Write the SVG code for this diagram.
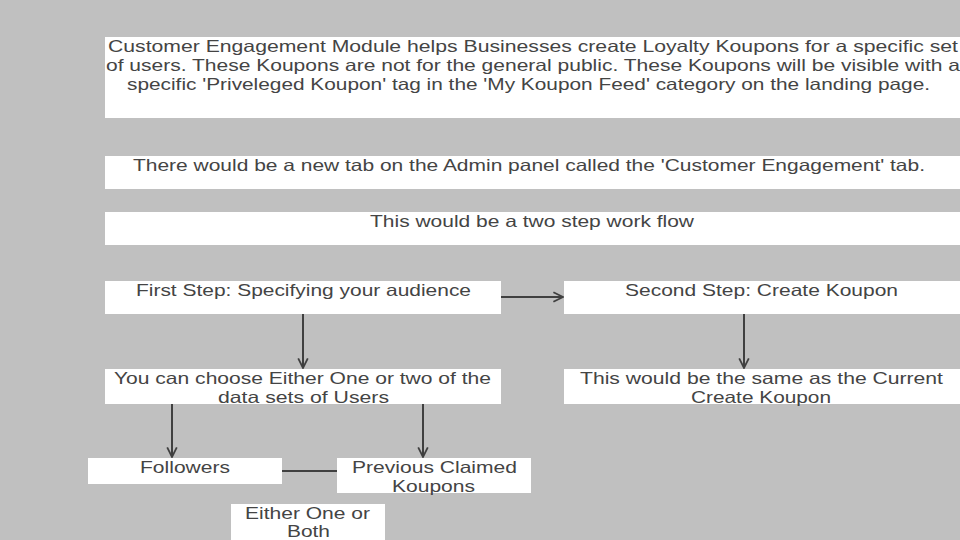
<svg xmlns="http://www.w3.org/2000/svg" width="960" height="540" viewBox="0 0 960 540">
<defs>
<style>
.box{fill:#ffffff;}
.t{font-family:"Liberation Sans",Arial,sans-serif;font-size:16.5px;fill:#444444;text-anchor:middle;}
.c{stroke:#404040;stroke-width:2;fill:none;}
</style>
<marker id="ah" viewBox="0 0 10 10" refX="9" refY="5" markerWidth="6" markerHeight="6" orient="auto" markerUnits="strokeWidth">
<path d="M1,1 L9,5 L1,9" fill="none" stroke="#404040" stroke-width="1.5"/>
</marker>
</defs>
<rect x="0" y="0" width="960" height="540" fill="#c0c0c0"/>
<g id="intro">
<rect class="box" x="105" y="37" width="860" height="81"/>
<text class="t" x="533" y="52" textLength="850" lengthAdjust="spacingAndGlyphs">Customer Engagement Module helps Businesses create Loyalty Koupons for a specific set</text>
<text class="t" x="533" y="71" textLength="854" lengthAdjust="spacingAndGlyphs">of users. These Koupons are not for the general public. These Koupons will be visible with a</text>
<text class="t" x="528.5" y="90" textLength="803" lengthAdjust="spacingAndGlyphs">specific 'Priveleged Koupon' tag in the 'My Koupon Feed' category on the landing page.</text>
</g>
<g id="newtab">
<rect class="box" x="105" y="156" width="860" height="33"/>
<text class="t" x="529" y="171" textLength="792" lengthAdjust="spacingAndGlyphs">There would be a new tab on the Admin panel called the 'Customer Engagement' tab.</text>
</g>
<g id="twostep">
<rect class="box" x="105" y="212" width="860" height="33"/>
<text class="t" x="532" y="227" textLength="324" lengthAdjust="spacingAndGlyphs">This would be a two step work flow</text>
</g>
<g id="step1">
<rect class="box" x="105" y="281" width="396" height="33"/>
<text class="t" x="303.5" y="296" textLength="335" lengthAdjust="spacingAndGlyphs">First Step: Specifying your audience</text>
</g>
<g id="step2">
<rect class="box" x="564" y="281" width="400" height="33"/>
<text class="t" x="761.5" y="296" textLength="273" lengthAdjust="spacingAndGlyphs">Second Step: Create Koupon</text>
</g>
<g id="choose">
<rect class="box" x="105" y="369" width="396" height="35"/>
<text class="t" x="302.5" y="384" textLength="377" lengthAdjust="spacingAndGlyphs">You can choose Either One or two of the</text>
<text class="t" x="303.5" y="403" textLength="171" lengthAdjust="spacingAndGlyphs">data sets of Users</text>
</g>
<g id="same">
<rect class="box" x="564" y="369" width="400" height="35"/>
<text class="t" x="761.5" y="384" textLength="363" lengthAdjust="spacingAndGlyphs">This would be the same as the Current</text>
<text class="t" x="761" y="403" textLength="140" lengthAdjust="spacingAndGlyphs">Create Koupon</text>
</g>
<g id="followers">
<rect class="box" x="88" y="458" width="194" height="26"/>
<text class="t" x="185" y="473" textLength="90" lengthAdjust="spacingAndGlyphs">Followers</text>
</g>
<g id="previous">
<rect class="box" x="337" y="458" width="194" height="35"/>
<text class="t" x="434.5" y="473" textLength="165" lengthAdjust="spacingAndGlyphs">Previous Claimed</text>
<text class="t" x="433.5" y="492" textLength="83" lengthAdjust="spacingAndGlyphs">Koupons</text>
</g>
<g id="either">
<rect class="box" x="231" y="504" width="154" height="40"/>
<text class="t" x="307.5" y="519" textLength="125" lengthAdjust="spacingAndGlyphs">Either One or</text>
<text class="t" x="308.5" y="537" textLength="43" lengthAdjust="spacingAndGlyphs">Both</text>
</g>
<g id="connectors">
<line class="c" x1="501" y1="297" x2="563" y2="297" marker-end="url(#ah)"/>
<line class="c" x1="303" y1="314" x2="303" y2="368" marker-end="url(#ah)"/>
<line class="c" x1="744" y1="314" x2="744" y2="368" marker-end="url(#ah)"/>
<line class="c" x1="172" y1="404" x2="172" y2="457" marker-end="url(#ah)"/>
<line class="c" x1="423" y1="404" x2="423" y2="457" marker-end="url(#ah)"/>
<line class="c" x1="282" y1="471" x2="337" y2="471"/>
</g>
</svg>
